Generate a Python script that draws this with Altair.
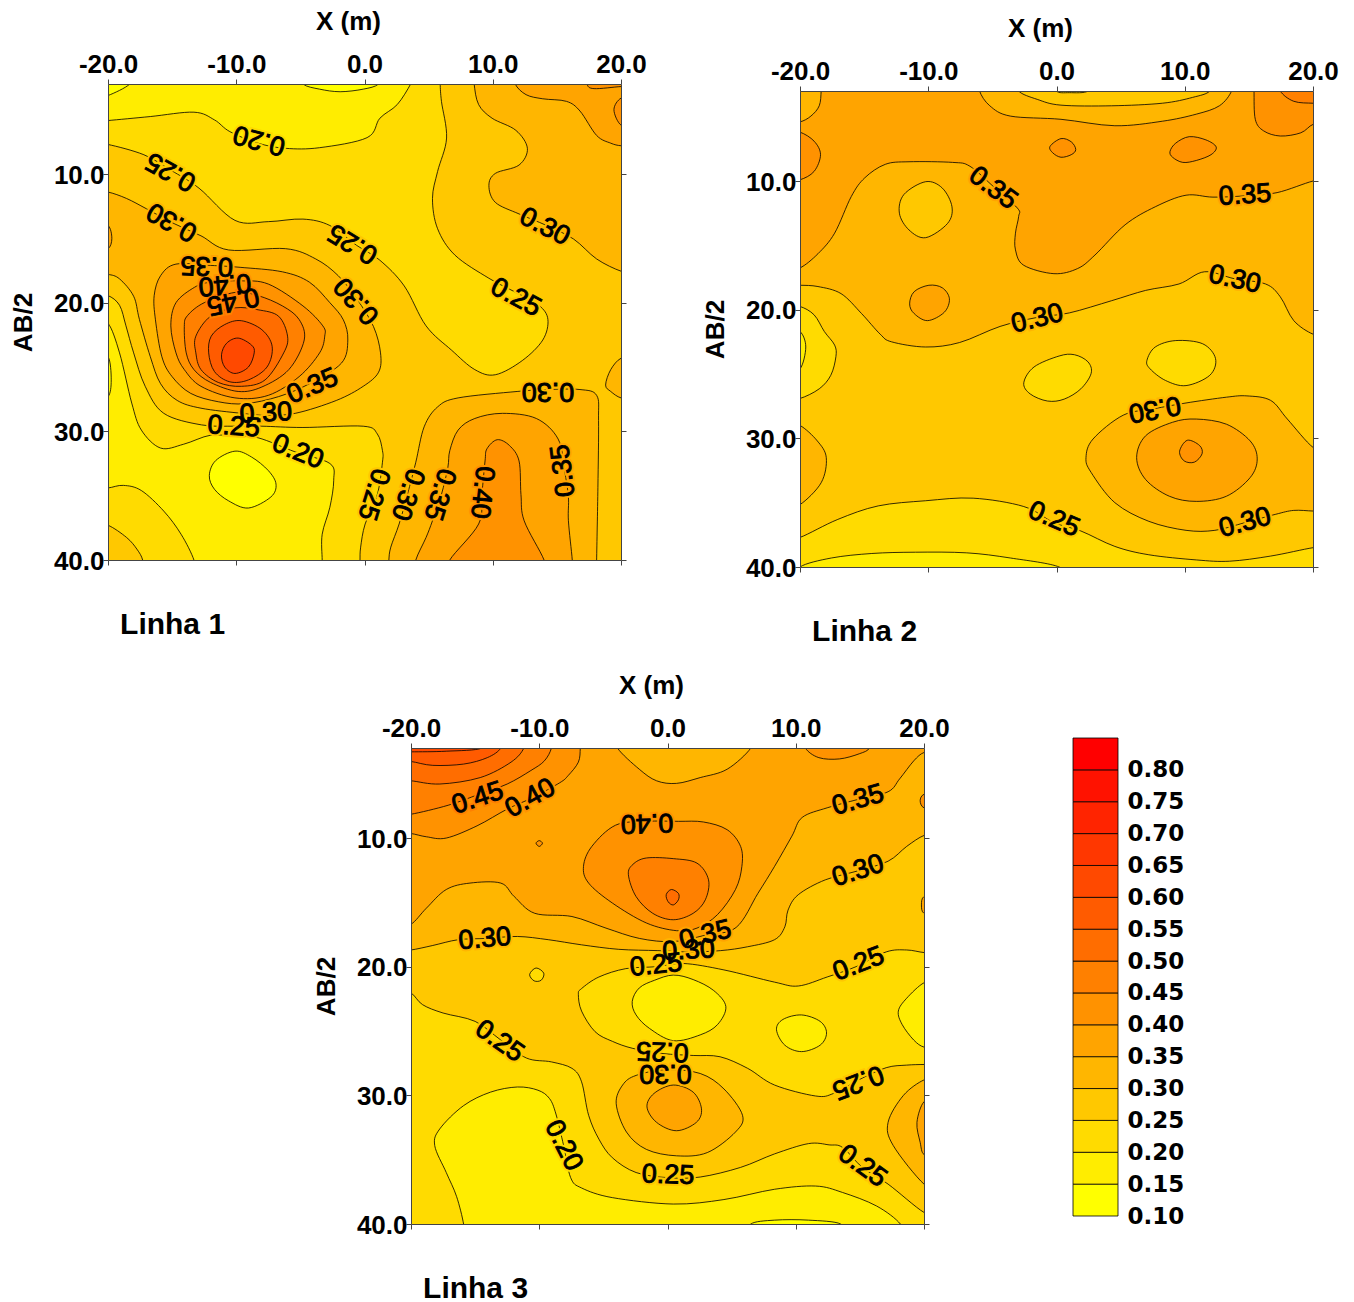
import altair as alt
import pandas as pd

alt.data_transformers.disable_max_rows()

FONT = "Liberation Sans"
BAND_COLORS = ["#FFFF00", "#FFED00", "#FFDB00", "#FFC800", "#FFB600", "#FFA400", "#FF9200",
               "#FF8000", "#FF6D00", "#FF5B00", "#FF4900", "#FF3700", "#FF2400", "#FF1200", "#FF0000"]
BAND_LOW = [0.10, 0.15, 0.20, 0.25, 0.30, 0.35, 0.40, 0.45, 0.50, 0.55, 0.60, 0.65, 0.70, 0.75, 0.80]
BAND_HIGH = [0.15, 0.20, 0.25, 0.30, 0.35, 0.40, 0.45, 0.50, 0.55, 0.60, 0.65, 0.70, 0.75, 0.80, 0.85]
LEGEND_TICKS = [0.10, 0.15, 0.20, 0.25, 0.30, 0.35, 0.40, 0.45, 0.50, 0.55, 0.60, 0.65, 0.70, 0.75, 0.80]
X_TICKS = [-20, -10, 0, 10, 20]
Y_TICKS = [10, 20, 30, 40]

# Each region: (colour band index, outline points in (X, AB/2) units). Painted in list order.
PANEL1 = [
    (2, [(-22, 1), (22, 1), (22, 42), (-22, 42)]),
    (1, [(-20, 5.84), (-16.7, 5.53), (-13.3, 5.19), (-11.7, 5.79), (-10.5, 6.7), (-8.3, 7.6), (-6.15, 8.0), (-3.5, 7.95), (0.2, 7.17), (1.2, 5.66), (2.55, 4.6), (3.6, 3.0), (4, 2), (-21, 2), (-21, 5.9)]),
    (0, [(-4.8, 3.0), (-3.5, 3.4), (-1.9, 3.6), (-0.1, 3.4), (1.1, 3.0), (1.5, 2), (-5.2, 2)]),
    (0, [(-20, 3.9), (-18.3, 3.0), (-18, 2), (-21, 2), (-21, 4.1)]),
    (1, [(-20, 21.6), (-19.1, 23.9), (-18.15, 27.8), (-17.4, 29.9), (-15.9, 31.3), (-14.1, 31.0), (-12.0, 30.3), (-10.1, 30.4), (-8.3, 30.5), (-5.4, 31.6), (-2.7, 32.5), (-2.4, 33.8), (-2.7, 35.9), (-3.3, 38.0), (-3.3, 40), (-3.3, 41), (-13.3, 41), (-13.3, 40), (-14.3, 38.0), (-15.65, 36.2), (-17.4, 34.6), (-18.8, 34.2), (-20, 34.4), (-21, 34.4), (-21, 21.6)]),
    (0, [(-12.1, 33.44), (-11.6, 32.27), (-10.1, 31.54), (-8.8, 32.0), (-7.5, 33.05), (-6.9, 34.1), (-7.3, 35.1), (-9.05, 35.96), (-10.6, 35.4), (-11.7, 34.5)]),
    (0, [(-20, 24.2), (-19.75, 26.0), (-20, 27.3), (-21, 27.3), (-21, 24.2)]),
    (3, [(-20, 7.7), (-17.2, 8.5), (-15.1, 9.7), (-12.9, 11.1), (-10.1, 13.6), (-7.5, 13.7), (-4.8, 13.5), (-2.7, 14.0), (-0.6, 15.55), (1.2, 16.7), (3.1, 18.7), (4.8, 21.8), (6.8, 23.7), (8.6, 25.2), (10.2, 25.6), (12.3, 24.5), (13.9, 22.9), (14.3, 21.3), (13.6, 20.2), (11.8, 19.2), (9.7, 18.1), (7.05, 16.3), (5.7, 14.25), (5.3, 11.9), (5.7, 9.8), (6.4, 7.2), (6.0, 4.35), (5.9, 3.0), (5.9, 2), (21, 2), (21, 41), (-0.35, 41), (-0.35, 40), (-0.3, 39.0), (0.05, 37.2), (1.0, 34.9), (1.4, 32.4), (1.4, 31.5), (1.0, 30.2), (-0.1, 29.6), (-4.8, 29.7), (-8.0, 29.6), (-10.1, 29.6), (-12.7, 29.5), (-15.65, 28.6), (-17.1, 26.5), (-18.0, 23.9), (-18.6, 21.8), (-19.1, 20.2), (-20, 19.45), (-21, 19.45), (-21, 7.7)]),
    (3, [(-20, 37.3), (-18.55, 38.25), (-17.75, 39.15), (-17.3, 40), (-17.3, 41), (-21, 41), (-21, 37.3)]),
    (4, [(-20, 11.4), (-18.55, 11.9), (-17.0, 12.7), (-14.85, 13.85), (-12.75, 14.8), (-10.6, 15.9), (-6.15, 15.8), (-3.8, 16.6), (-2.05, 17.9), (-0.6, 19.7), (0.7, 21.85), (1.25, 23.9), (1.1, 25.4), (-0.1, 26.5), (-2.2, 27.6), (-5.4, 28.6), (-7.75, 28.75), (-9.6, 28.6), (-12.75, 28.2), (-14.6, 27.6), (-15.9, 26.3), (-16.7, 24.2), (-17.55, 21.3), (-18, 19.5), (-19.1, 18.15), (-20, 17.8), (-21, 17.8), (-21, 11.4)]),
    (4, [(8.55, 3.0), (8.9, 4.6), (9.95, 5.66), (11.8, 6.6), (12.7, 8.0), (12.05, 9.3), (10.2, 9.95), (9.7, 10.9), (10.2, 12.2), (12.05, 13.1), (14.2, 14.0), (16.3, 15.05), (18.1, 16.6), (20, 17.55), (21, 17.6), (21, 2), (8.55, 2)]),
    (4, [(1.9, 40), (2.05, 39.0), (2.7, 37.2), (3.35, 34.9), (4.0, 32.4), (4.65, 29.65), (5.7, 28.1), (7.3, 27.4), (11.9, 26.9), (14.2, 26.75), (16.8, 26.75), (18.1, 27.2), (18.25, 29.15), (18.2, 34.35), (18.1, 40), (18.1, 41), (1.9, 41)]),
    (4, [(20, 24.32), (19.2, 25.2), (18.8, 26.4), (19.2, 26.9), (20, 27.4), (21, 27.4), (21, 24.32)]),
    (5, [(-14.7, 17.0), (-15.9, 17.9), (-16.4, 19.45), (-16.3, 21.33), (-15.8, 24.2), (-15.0, 25.75), (-13.55, 27.05), (-11.4, 27.7), (-9.3, 27.85), (-6.7, 27.3), (-4.3, 26.3), (-1.8, 24.7), (-1.3, 22.9), (-1.65, 21.33), (-2.7, 20.0), (-4.3, 18.4), (-6.4, 17.6), (-9.7, 17.25), (-12, 17.1)]),
    (5, [(-20, 14.0), (-19.7, 15.0), (-20, 15.8), (-21, 15.8), (-21, 14.0)]),
    (5, [(11.75, 3.0), (12.6, 3.83), (13.9, 4.15), (15.75, 4.35), (16.8, 5.1), (18.1, 7.0), (19.2, 7.6), (20, 7.8), (21, 7.8), (21, 2), (11.75, 2)]),
    (6, [(17.35, 3.0), (17.9, 3.36), (20, 3.2), (21, 3.2), (21, 2), (17.35, 2)]),
    (6, [(20, 4.1), (19.45, 5.0), (20, 6.2), (21, 6.2), (21, 4.1)]),
    (5, [(4.0, 40), (4.8, 38.25), (5.3, 36.95), (6, 34.9), (6.5, 32.8), (6.65, 31.5), (7.3, 29.9), (8.6, 29.0), (10.75, 28.6), (13.4, 29.0), (15.1, 30.6), (15.6, 33.05), (15.9, 35.1), (15.9, 36.95), (16.2, 40), (16.2, 41), (4.0, 41)]),
    (6, [(6.65, 40), (8.9, 37.2), (9.15, 34.9), (9.4, 32.3), (9.55, 31.35), (10.35, 30.65), (11.3, 31.1), (12.05, 32.3), (12.2, 34.9), (12.45, 36.95), (14, 40), (14, 41), (6.65, 41)]),
    (6, [(-13.25, 18.8), (-14.7, 20), (-15.1, 21.8), (-14.7, 23.9), (-14.05, 25.2), (-12.75, 26.5), (-10.1, 27.4), (-7.5, 27.2), (-5.1, 25.75), (-3.5, 23.9), (-3.1, 22.6), (-3.25, 21.8), (-4.8, 20.25), (-7.5, 18.55), (-9.7, 18.3), (-12, 18.4)]),
    (7, [(-12.5, 20.0), (-13.8, 21.0), (-14.05, 21.85), (-13.9, 23.9), (-13.3, 25.2), (-12, 26.2), (-9.85, 26.9), (-8, 26.55), (-5.9, 25.2), (-4.7, 22.9), (-5.1, 21.3), (-6.4, 20.25), (-8.3, 19.45), (-10.1, 19.2)]),
    (8, [(-13.15, 22.6), (-13.15, 23.9), (-12.75, 25.2), (-11.4, 26.2), (-9.6, 26.5), (-7.75, 26.0), (-6.3, 23.9), (-6, 22.6), (-6.7, 21.05), (-8.3, 20.55), (-10.1, 20.4), (-12, 21.05)]),
    (9, [(-9.6, 21.4), (-8, 22.1), (-7.2, 23.4), (-7.6, 25), (-9.05, 26), (-10.5, 26.15), (-11.7, 25.35), (-12.15, 23.9), (-11.95, 22.6), (-10.9, 21.7)]),
    (10, [(-9.85, 22.75), (-8.8, 23.3), (-8.6, 23.9), (-9.05, 25), (-10.1, 25.5), (-10.9, 25), (-11.15, 24.05), (-10.75, 23.15)]),
]
LABELS1 = [
    ("0.20", -8.2, 7.35, 195), ("0.25", -15.1, 9.8, 209), ("0.30", -15, 13.7, 209), ("0.25", -0.9, 15.4, 211),
    ("0.30", 14.05, 14.1, 27), ("0.25", 11.8, 19.6, 28), ("0.30", -0.6, 19.85, 228), ("0.35", -12.3, 17.1, 182),
    ("0.40", -10.9, 18.55, 175), ("0.45", -10.25, 19.85, 168), ("0.35", -4.05, 26.5, 337), ("0.30", -7.7, 28.6, 357),
    ("0.25", -10.2, 29.65, 4), ("0.20", -5.2, 31.6, 22), ("0.25", 0.7, 34.9, 107), ("0.30", 3.35, 34.9, 109),
    ("0.35", 5.85, 34.9, 107), ("0.40", 9.15, 34.75, 96), ("0.35", 15.5, 33.05, 263), ("0.30", 14.3, 26.85, 180),
]

PANEL2 = [
    (3, [(-22, 1), (22, 1), (22, 42), (-22, 42)]),
    (4, [(-20, 18.1), (-18.6, 18.2), (-16.8, 18.75), (-15.2, 20.3), (-13.75, 21.9), (-12.85, 22.5), (-10.2, 22.9), (-7.55, 22.55), (-4.4, 21.3), (-1.5, 20.6), (1, 20.25), (4.3, 19.3), (6.95, 18.5), (9.55, 18), (11.55, 17.05), (13.9, 17.6), (16.3, 18), (17.45, 19), (18.5, 20.85), (20, 21.9), (21, 21.9), (21, 2), (-21, 2), (-21, 18.1)]),
    (5, [(-20, 16.75), (-18.6, 15.65), (-17.3, 14.05), (-16, 11.2), (-14.95, 9.75), (-13.35, 8.7), (-11.5, 8.5), (-8.1, 8.55), (-6.75, 8.85), (-4.95, 10.4), (-3.05, 12.1), (-2.95, 12.75), (-3.2, 14.05), (-3.2, 15.35), (-2.55, 16.55), (-0.2, 17.2), (1.65, 16.8), (3, 15.75), (5.35, 13.4), (7.7, 12), (10.1, 11.1), (12.2, 11.25), (14.7, 11.15), (17.2, 10.9), (20, 10), (21, 10), (21, 2), (-21, 2), (-21, 16.75)]),
    (4, [(-6, 3), (-5.2, 4.15), (-3.6, 4.95), (0.35, 5.2), (4.55, 5.7), (8.25, 5.35), (10.9, 4.8), (12.7, 4.15), (13.65, 3), (13.65, 2), (-6, 2)]),
    (3, [(-2.95, 3), (-1.5, 3.65), (0.35, 4.1), (4.3, 4.15), (8.25, 3.95), (10.6, 3.5), (11.95, 3), (11.95, 2), (-2.95, 2)]),
    (2, [(0, 3), (1, 3.13), (2.45, 3), (2.45, 2), (0, 2)]),
    (4, [(-18.35, 3), (-18.5, 4.15), (-19.15, 4.95), (-20, 5.4), (-21, 5.4), (-21, 2), (-18.35, 2)]),
    (6, [(15.4, 3), (15.5, 5.2), (16.15, 6.1), (17.45, 6.5), (19.05, 6.25), (20, 5.6), (21, 5.6), (21, 2), (15.4, 2)]),
    (7, [(17.45, 3), (18.5, 3.8), (20, 3.95), (21, 3.95), (21, 2), (17.45, 2)]),
    (6, [(-20, 6.2), (-18.9, 6.9), (-18.4, 7.95), (-18.9, 9.25), (-20, 9.9), (-21, 9.9), (-21, 6.2)]),
    (6, [(-0.5, 7.3), (0.35, 6.7), (1.15, 6.95), (1.5, 7.55), (1.15, 7.95), (0.35, 8.15), (-0.3, 7.8)]),
    (6, [(8.85, 7.7), (9.3, 7.05), (10.35, 6.55), (11.65, 6.8), (12.45, 7.35), (12.05, 7.95), (10.9, 8.4), (9.85, 8.55), (9.05, 8.15)]),
    (3, [(-10.2, 10.05), (-8.9, 10.55), (-8.15, 12), (-8.5, 13.3), (-10.2, 14.4), (-11.5, 13.8), (-12.25, 12.5), (-11.9, 11.05)]),
    (5, [(-11.45, 19.55), (-11.1, 18.6), (-9.95, 18.1), (-8.9, 18.3), (-8.35, 19.15), (-8.75, 20.2), (-10.05, 20.85), (-11.1, 20.3)]),
    (2, [(-20, 19.75), (-18.9, 20.4), (-18.1, 21.7), (-17.3, 22.75), (-17.2, 23.65), (-17.6, 25.1), (-18.5, 26.15), (-20, 26.9), (-21, 26.9), (-21, 19.75)]),
    (1, [(-20, 21.7), (-19.55, 22.9), (-20, 24.6), (-21, 24.6), (-21, 21.7)]),
    (2, [(-2.55, 25.68), (-1.75, 24.45), (0.2, 23.6), (1.4, 23.5), (2.45, 24.05), (2.7, 24.95), (1.9, 26.15), (0.6, 26.95), (-0.7, 27.1), (-2.05, 26.55)]),
    (2, [(7.05, 23.95), (7.7, 22.9), (9.3, 22.4), (11.4, 22.65), (12.4, 23.8), (11.95, 25.1), (10.1, 25.9), (8.5, 25.5), (7.3, 24.6)]),
    (4, [(-20, 29), (-18.65, 30.2), (-17.95, 31.5), (-18.35, 33.45), (-20, 35.15), (-21, 35.15), (-21, 29)]),
    (4, [(20, 30.7), (18, 28.5), (16.7, 27.05), (14.85, 26.7), (13.25, 26.8), (10.1, 27.25), (7.6, 27.7), (5.2, 28.2), (2.85, 30.05), (2.3, 31.5), (2.7, 32.65), (4.55, 35), (7.2, 36.45), (10.1, 37.15), (12.35, 37.15), (14.7, 36.55), (17.1, 35.9), (18.5, 35.6), (20, 35.65), (21, 35.65), (21, 30.7)]),
    (5, [(6.25, 31.5), (6.95, 29.8), (9.05, 28.75), (10.9, 28.5), (13.25, 28.9), (15.1, 30.2), (15.65, 31.6), (15.1, 33.05), (13.25, 34.5), (10.9, 34.9), (8.8, 34.5), (6.95, 33.2)]),
    (6, [(9.6, 31), (10.2, 30.15), (11.15, 30.55), (11.35, 31.2), (10.75, 31.85), (9.95, 31.75)]),
    (2, [(-20, 37.7), (-17.05, 36.3), (-13.9, 35.25), (-10.2, 34.85), (-6.5, 34.65), (-2.55, 35.3), (-0.2, 36.55), (1.9, 37.2), (4.55, 38.4), (7.2, 39.05), (10.9, 39.45), (13.5, 39.55), (16.7, 39.15), (20, 38.5), (21, 38.5), (21, 41), (-21, 41), (-21, 37.7)]),
    (1, [(-20, 40), (-17.55, 39.3), (-14.4, 38.95), (-11, 38.85), (-7, 38.9), (-3.6, 39.3), (0.2, 40), (0.2, 41), (-20, 41)]),
]
LABELS2 = [
    ("0.35", -4.95, 10.55, 37), ("0.35", 14.7, 11.1, 356), ("0.30", 13.9, 17.65, 12), ("0.30", -1.5, 20.7, 346),
    ("0.30", 7.65, 27.7, 170), ("0.25", -0.2, 36.3, 23), ("0.30", 14.7, 36.55, 345),
]

PANEL3 = [
    (2, [(-22, 1), (22, 1), (22, 42), (-22, 42)]),
    (3, [(-20, 22.05), (-19.1, 22.95), (-17.5, 23.6), (-15, 24.25), (-13, 25.7), (-11, 27.1), (-9.05, 27.4), (-7.45, 27.9), (-6.7, 28.95), (-6.15, 31.55), (-5.35, 33.4), (-4.3, 34.85), (-2.45, 36), (0.05, 36.4), (2.55, 36.35), (5.7, 35.6), (8.35, 34.55), (11, 33.75), (12.6, 33.85), (13.65, 34.05), (15.2, 35.6), (17.2, 36.9), (20, 39.1), (21, 39.1), (21, 2), (-21, 2), (-21, 22.05)]),
    (2, [(20, 18.9), (18.65, 18.7), (17.05, 18.85), (14.7, 20), (12.45, 20.8), (10.2, 21.5), (8.35, 21.2), (4.4, 20.25), (1.25, 19.75), (-0.85, 20), (-3.25, 20.15), (-5.35, 20.8), (-6.7, 21.7), (-6.95, 22.15), (-6.7, 23.45), (-5.65, 25.05), (-4.3, 25.8), (-2.7, 26.35), (-0.35, 26.75), (2, 26.9), (4.1, 27), (6.25, 27.9), (8.35, 29.2), (11.55, 30.05), (12.95, 29.85), (14.9, 28.8), (17.05, 27.85), (18.65, 27.65), (20, 27.6), (21, 27.6), (21, 18.9)]),
    (1, [(0.45, 20.65), (2, 21), (3.6, 21.85), (4.55, 23.1), (3.9, 24.5), (2.55, 25.3), (0.45, 25.75), (-1.4, 24.8), (-2.45, 23.75), (-2.75, 22.7), (-2.2, 21.65), (-1, 21.05)]),
    (1, [(8.5, 24.9), (9, 24.1), (10.45, 23.75), (11.9, 24.25), (12.4, 25.15), (11.9, 26.1), (10.45, 26.6), (9.15, 26.1)]),
    (1, [(20, 21.25), (18.65, 22.45), (18, 23.45), (18.3, 24.5), (19.2, 25.7), (20, 26.25), (21, 26.25), (21, 21.25)]),
    (1, [(-15.9, 40), (-16.45, 37.85), (-17.25, 36), (-18.15, 33.9), (-17.75, 32.6), (-15.9, 30.8), (-13.8, 29.75), (-11.7, 29.35), (-10.1, 29.6), (-9.2, 30.25), (-8.7, 31.45), (-8.1, 33.9), (-7.55, 36.4), (-6.7, 37.2), (-4.3, 37.95), (0.45, 38.45), (4.4, 38.1), (8.35, 37.3), (11.55, 37.05), (13.65, 37.55), (16.3, 38.6), (18.15, 40), (18.15, 41), (-15.9, 41)]),
    (0, [(6.5, 40), (8.35, 39.7), (11, 39.7), (13.5, 40), (13.5, 41), (6.5, 41)]),
    (4, [(-20, 18.7), (-18.3, 18.35), (-16.3, 17.9), (-14.05, 17.8), (-11.7, 17.65), (-9.3, 17.9), (-6.7, 18.3), (-3.8, 18.65), (-0.75, 18.75), (1.75, 18.85), (4.15, 18.75), (6.25, 18.45), (8.35, 17.9), (9.15, 16.9), (9.4, 15.6), (10.2, 14.4), (12.3, 13.25), (14.85, 12.55), (17.2, 11.8), (18.65, 10.65), (20, 9.8), (21, 9.8), (21, 2), (-21, 2), (-21, 18.7)]),
    (2, [(-10.75, 20.6), (-10.25, 20.1), (-9.65, 20.5), (-9.85, 21.05), (-10.4, 21.1)]),
    (4, [(20, 28.8), (18.4, 30), (17.2, 32.1), (17.6, 33.9), (20, 36.9), (21, 36.9), (21, 28.8)]),
    (5, [(20, 30.5), (19.45, 32.1), (19.7, 33.65), (20, 34.6), (21, 34.6), (21, 30.5)]),
    (4, [(-4, 30.65), (-3.5, 29.2), (-2.45, 28.45), (-0.1, 28), (2.55, 28.3), (4.4, 29.5), (5.85, 31.55), (5.3, 32.85), (3.1, 34.45), (0.7, 34.7), (-1.65, 34.2), (-3.2, 32.85)]),
    (5, [(-1.6, 30.9), (-1.05, 29.85), (0.45, 29.2), (2, 29.75), (2.65, 31.05), (2.25, 32.1), (0.7, 32.75), (-0.85, 32.1)]),
    (5, [(-20, 16.7), (-18.8, 15.45), (-17.25, 14), (-15.4, 13.5), (-13, 13.5), (-11.95, 14.55), (-10.35, 15.85), (-7.45, 16.1), (-4.8, 17), (-2.2, 17.8), (0.45, 18.05), (2.95, 17.55), (5.35, 16.95), (7.05, 14.3), (8.35, 12.2), (9.7, 9.85), (10.5, 8.4), (12.45, 7.65), (14.85, 7), (17.2, 6.4), (18.1, 5.4), (19.2, 4), (20, 3.35), (21, 3.3), (21, 2), (-21, 2), (-21, 16.7)]),
    (5, [(20, 14.55), (19.8, 15.2), (20, 15.85), (21, 15.85), (21, 14.55)]),
    (6, [(20, 6.6), (19.7, 7.1), (20, 7.65), (21, 7.65), (21, 6.6)]),
    (4, [(-3.9, 3), (-2.2, 4.65), (-0.85, 5.55), (0.7, 5.75), (2.55, 5.3), (4.65, 4.65), (6.5, 3), (6.5, 2), (-3.9, 2)]),
    (6, [(10.75, 3), (11.8, 3.75), (13.4, 3.85), (14.95, 3.45), (15.75, 3), (15.75, 2), (10.75, 2)]),
    (6, [(-6.8, 3), (-6.95, 4.1), (-7.75, 5.15), (-8.4, 5.7), (-10.5, 6.85), (-12.5, 7.75), (-14.85, 9.05), (-17.25, 10), (-18.8, 9.9), (-20, 9.65), (-21, 9.65), (-21, 2), (-6.8, 2)]),
    (7, [(-9.05, 3), (-9.6, 4), (-10.65, 4.75), (-12.5, 5.8), (-14.7, 6.6), (-17.1, 7.45), (-20, 8.15), (-21, 8.15), (-21, 2), (-9.05, 2)]),
    (8, [(-11.2, 3), (-12.2, 4.1), (-14.6, 5.3), (-17.75, 5.8), (-20, 5.55), (-21, 5.55), (-21, 2), (-11.2, 2)]),
    (9, [(-13, 3), (-14.05, 3.75), (-15.9, 4.25), (-18.3, 4.35), (-20, 4.05), (-21, 4.05), (-21, 2), (-13, 2)]),
    (10, [(-14.45, 3), (-17.25, 3.25), (-20, 3.3), (-21, 3.3), (-21, 2), (-14.45, 2)]),
    (6, [(-10.25, 10.4), (-10, 10.2), (-9.75, 10.4), (-10, 10.65)]),
    (6, [(-6.55, 12.2), (-5.9, 10.65), (-4.05, 9), (-1.65, 8.7), (0.85, 8.7), (2.8, 8.75), (4.65, 9.35), (5.7, 10.65), (5.8, 12.2), (5.3, 14), (3.9, 15.95), (2.3, 17), (0.7, 17.2), (-1.65, 16.6), (-4.3, 15.05), (-6.15, 13.5)]),
    (7, [(-3.05, 12.85), (-2.7, 12.05), (-1.65, 11.55), (0.45, 11.6), (2.3, 11.95), (3.2, 13.25), (2.95, 14.8), (2, 15.85), (0.45, 16.35), (-1.15, 15.85), (-2.45, 14.55)]),
    (8, [(-0.1, 14.4), (0.3, 14), (0.85, 14.3), (0.85, 14.8), (0.45, 15.2), (0.05, 14.95)]),
]
LABELS3 = [
    ("0.45", -14.8, 6.9, 342), ("0.40", -10.7, 6.9, 331), ("0.40", -1.6, 8.8, 178), ("0.35", 14.85, 7.05, 344),
    ("0.30", 14.85, 12.55, 342), ("0.30", -14.25, 17.85, 355), ("0.35", 2.95, 17.55, 346), ("0.30", 1.65, 18.75, 357),
    ("0.25", -0.9, 19.9, 354), ("0.25", 14.9, 19.8, 339), ("0.25", -13.1, 25.8, 35), ("0.25", -0.4, 26.55, 182),
    ("0.30", -0.15, 28.3, 180), ("0.25", 14.85, 28.95, 159), ("0.20", -8.1, 33.9, 63), ("0.25", 0.05, 36.2, 2),
    ("0.25", 15.2, 35.5, 36),
]
PANEL_NAMES = ["Linha 1", "Linha 2", "Linha 3"]
NAME_POS = (-19.06, 45.72)

WIDTH = 513
HEIGHT = 476
TICK_COLOR = "#444444"
HYPHEN_LABEL = "replace(format(datum.value, '.1f'), '\u2212', '-')"


def outline_table(regions):
    rows = []
    for pid, (band, pts) in enumerate(regions):
        for i, (x, y) in enumerate(pts):
            rows.append({"pid": pid, "i": i, "x": x, "y": y, "color": BAND_COLORS[band]})
    return pd.DataFrame(rows)


def label_table(labels):
    rows = []
    for text, x, y, a in labels:
        rows.append({"t": text, "x": x, "y": y, "a": a, "bg": BAND_COLORS[round((float(text) - 0.10) / 0.05)]})
    return pd.DataFrame(rows)


def panel(regions, labels, name):
    xs = alt.Scale(domain=[-20, 20], nice=False, zero=False)
    ys = alt.Scale(domain=[3, 40], reverse=True, nice=False, zero=False)
    common_axis = dict(values=X_TICKS, domainColor=TICK_COLOR, tickColor=TICK_COLOR, tickSize=5, grid=False, zindex=1)
    x_top = alt.Axis(orient="top", labelExpr=HYPHEN_LABEL, title="X (m)", titleFont=FONT, titleFontSize=26, titleFontWeight="bold",
                     titleX=240, titleY=-50, labelFont=FONT, labelFontSize=26, labelFontWeight="bold", labelColor="black",
                     labelPadding=2, labelOverlap=False, labelFlush=False, **common_axis)
    y_left = alt.Axis(orient="left", format=".1f", title="AB/2", titleFont=FONT, titleFontSize=26, titleFontWeight="bold",
                      titleX=-72, titleY=238, values=Y_TICKS, labelFont=FONT, labelFontSize=26, labelFontWeight="bold",
                      labelColor="black", labelPadding=-1, labelOffset=1, labelOverlap=False, domainColor=TICK_COLOR, tickColor=TICK_COLOR,
                      tickSize=5, grid=False, zindex=1)
    x_bot = alt.Axis(orient="bottom", labels=False, title=None, **common_axis)
    y_right = alt.Axis(orient="right", labels=False, title=None, values=Y_TICKS, domainColor=TICK_COLOR,
                       tickColor=TICK_COLOR, tickSize=5, grid=False, zindex=1)

    fills = alt.Chart(outline_table(regions)).mark_line(
        interpolate="cardinal-closed", stroke="black", strokeWidth=0.8, clip=True
    ).encode(
        x=alt.X("x:Q", scale=xs, axis=x_top),
        y=alt.Y("y:Q", scale=ys, axis=y_left),
        detail="pid:N",
        order="i:Q",
        fill=alt.Fill("color:N", scale=None),
    )
    ticks_only = alt.Chart(pd.DataFrame({"x": [0], "y": [20]})).mark_point(opacity=0).encode(
        x=alt.X("x:Q", scale=xs, axis=x_bot),
        y=alt.Y("y:Q", scale=ys, axis=y_right),
    )
    lt = label_table(labels)
    halo = alt.Chart(lt).mark_text(font=FONT, fontSize=27, strokeWidth=5, fill=None, clip=True).encode(
        x=alt.X("x:Q", scale=xs, axis=None), y=alt.Y("y:Q", scale=ys, axis=None), text="t:N",
        angle=alt.Angle("a:Q", scale=None), stroke=alt.Stroke("bg:N", scale=None),
    )
    words = alt.Chart(lt).mark_text(font=FONT, fontSize=27, color="black", stroke="black", strokeWidth=0.9).encode(
        x=alt.X("x:Q", scale=xs, axis=None), y=alt.Y("y:Q", scale=ys, axis=None), text="t:N",
        angle=alt.Angle("a:Q", scale=None),
    )
    caption = alt.Chart(pd.DataFrame({"x": [NAME_POS[0]], "y": [NAME_POS[1]], "t": [name]})).mark_text(
        font=FONT, fontSize=30, fontWeight="bold", align="left", baseline="alphabetic", color="black"
    ).encode(x=alt.X("x:Q", scale=xs, axis=None), y=alt.Y("y:Q", scale=ys, axis=None), text="t:N")
    return alt.layer(fills, ticks_only, halo, words, caption).properties(width=WIDTH, height=HEIGHT)


def spacer(w=1, h=1):
    return alt.Chart(pd.DataFrame({"a": [0]})).mark_text(text="", opacity=0).properties(width=w, height=h)


legend_df = pd.DataFrame({"lo": BAND_LOW, "hi": BAND_HIGH, "color": BAND_COLORS})
legend = alt.Chart(legend_df).mark_rect(stroke="black", strokeWidth=0.8).encode(
    y=alt.Y("lo:Q", scale=alt.Scale(domain=[0.10, 0.85], nice=False, zero=False),
            axis=alt.Axis(orient="right", values=LEGEND_TICKS, format=".2f", title=None, ticks=False, domain=False, grid=False,
                          labelFont="DejaVu Sans", labelFontWeight="bold", labelFontSize=23, labelColor="black",
                          labelPadding=9, labelOverlap=False)),
    y2="hi:Q",
    fill=alt.Fill("color:N", scale=None),
).properties(width=45, height=478)

p1 = panel(PANEL1, LABELS1, PANEL_NAMES[0])
p2 = panel(PANEL2, LABELS2, PANEL_NAMES[1])
p3 = panel(PANEL3, LABELS3, PANEL_NAMES[2])

row1 = alt.hconcat(p1, alt.vconcat(spacer(), p2, spacing=6, bounds="flush"), spacing=55)
row2 = alt.hconcat(spacer(w=83), alt.vconcat(spacer(), p3, spacing=9, bounds="flush"), legend, spacing=122)
chart = alt.vconcat(row1, row2, spacing=25).properties(
    padding={"left": 2, "top": 0, "right": 0, "bottom": 0}
).configure_view(stroke=None)

chart.save("out.html", embed_options={"renderer": "svg", "actions": False})
